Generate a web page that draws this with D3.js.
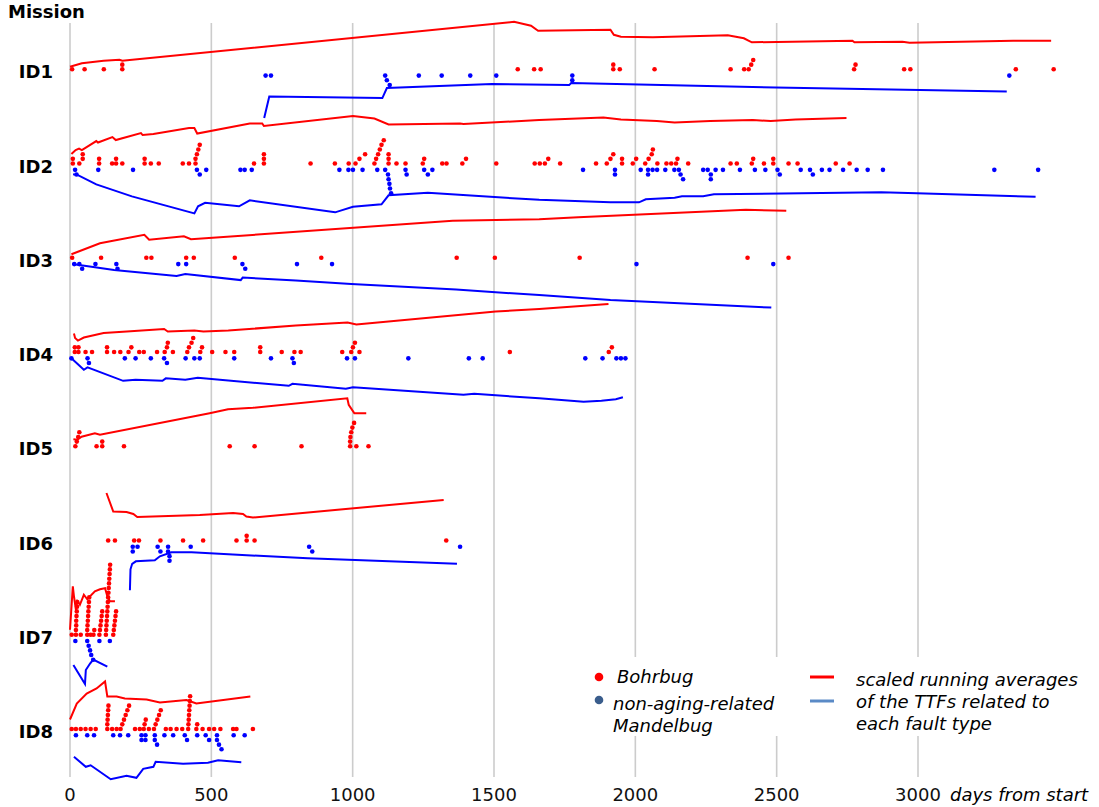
<!DOCTYPE html>
<html><head><meta charset="utf-8">
<script src="https://cdn.jsdelivr.net/npm/d3@7"></script>
<style>body{margin:0;background:#fff}svg{display:block}text{font-family:"DejaVu Sans",sans-serif}</style>
</head><body><svg id="c" width="1099" height="807"></svg>
<script>
const missions = ["ID1","ID2","ID3","ID4","ID5","ID6","ID7","ID8"];
const xTicks = [0,500,1000,1500,2000,2500,3000];

// failure days; nested arrays = bursts of failures that stack
const bohrbugDays = [
 [7.5,51.6,119.7,[185,185],1584,1642,1665,[1922,1922],1945,2068,2337,2385,[2401,2410,2417],[2774,2779],2951,2973,3346,3480],
 [[10,10],[33,45,45],[103,103],149,[163,163],185,[264,264],286,314,399,421,[444,444,449,454,459],651,[686,686,686],851,937,986,[1010,1024,1044],[1077,1083,1090,1096,1102,1110],[1127,1127,1127],1155,1187,[1248,1253],1317,[1332],[1388,1401],1508,1644,1662,[1680,1692],1734,1861,[1899,1912,1922],[1953,1953],[1991,2003],[2035,2047,2058,2062],2078,2110,2127,[2144,2149],2187,2337,2359,[2412,2417],2455,[2488,2488],2542,2574,2709,2758],
 [7.6,110,270,288,411,438,583,889,1368,1503,1803,2397,2542],
 [[17,17],[30,30],55,78,[131,131],156,178,[207,217],245,261,308,[335,343,346],364,[415,421,430,436],[461,467],503,550,581,[673,673],749,794,816,963,[995,1001,1008],1024,1556,[1906,1917]],
 [[19,24,29,33],94,[114,114],191,565,653,819,[991,991,992,995,999,1005],1013,1056],
 [135,159,227,244,320,400,471,589,[625,625],653,1331],
 [6,[21,21,22,22,23,24,25,26],38,[61,61,62,63,64,65,66,67,68],73,[83,86],[104,106,108,110,112,114],[127,128,129,130,131,132,133,134,135,136,137,138,139,140,141,142],[153,155,157,159,161,163]],
 [6,21,38,55,73,91,[132,132,133,134,135,136],149,165,[179,185,191,197,203,209],230,247,[261,264,268],279,[297,303,309,315,321],339,356,377,397,[418,419,420,421,422,423,424,425],[447,450],469,492,510,532,577,589,647]
];
const mandelbugDays = [
 [692,711,[1115,1121,1131],1234,1315,1416,1508,[1777,1777],3323],
 [[18,23],100,223,[449,459],482,603,618,643,953,985,1001,1035,1087,[1115,1125,1127,1130,1132,1136],[1187,1191],[1253,1266],1282,1815,[1928,1928],2019,[2045,2045],2061,2077,2106,2138,[2154,2160,2169],2240,[2256,2267,2267],2284,2310,2370,2423,2460,[2503,2511],2585,[2618,2628],2660,2687,2735,2783,2822,2876,3270,3425],
 [15,[33,43],90,[164,168],383,411,[610,620],803,927,2004,2488],
 [5,[62,67],194,232,286,[333,343],409,440,459,581,711,[787,792],980,1008,1197,1411,1460,1823,1884,1933,1949,1965],
 [],
 [[222,222],239,[310,320],[347,347,352,352],427,[846,857],1380],
 [19,[61,66,71,75,82],104,141],
 [21,61,85,153,177,206,[253,253],[267,267],[300,300,308],334,365,[406,414],450,[480,492],[520,520,527,536],579,618]
];
// scaled running averages of the TTFs: [day, value]
const bohrbugAvg = [
 [[0,.05],[42,.12],[119,.17],[175,.19],[185,.17],[1571,.95],[1631,.87],[1656,.77],[1912,.79],[1924,.69],[1949,.65],[2062,.64],[2327,.68],[2384,.62],[2412,.54],[2768,.57],[2775,.54],[2945,.55],[2970,.53],[3337,.57],[3471,.57]],
 [[5,.19],[20,.27],[32,.30],[42,.27],[93,.45],[99,.42],[150,.53],[162,.47],[251,.61],[257,.57],[295,.59],[421,.71],[440,.71],[450,.60],[636,.80],[680,.80],[686,.75],[1001,.95],[1077,.90],[1127,.78],[1380,.80],[1392,.79],[1660,.87],[1887,.92],[1949,.88],[2076,.85],[2139,.82],[2265,.85],[2416,.87],[2479,.85],[2567,.88],[2747,.91]],
 [[5,.07],[106,.29],[263,.46],[280,.36],[403,.43],[428,.37],[1354,.74],[1660,.77],[1798,.81],[2391,.96],[2534,.94]],
 [[14,.37],[18,.28],[28,.23],[49,.29],[119,.38],[201,.41],[333,.46],[346,.41],[440,.43],[472,.41],[560,.43],[799,.53],[982,.59],[1013,.55],[1506,.81],[1660,.86],[1905,.96]],
 [[12,.14],[26,.13],[41,.19],[88,.26],[106,.23],[494,.66],[559,.74],[647,.77],[981,.96],[986,.83],[1006,.66],[1048,.66]],
 [[129,.95],[153,.58],[200,.57],[224,.53],[238,.47],[459,.51],[577,.55],[612,.53],[624,.48],[647,.46],[1322,.81]],
 [[0,.10],[10,.97],[14,.77],[21,.50],[26,.67],[35,.60],[49,.80],[61,.71],[88,.87],[106,.91],[124,.93],[132,.77],[141,.67],[159,.67]],
 [[0,.19],[24,.51],[59,.71],[94,.81],[124,.95],[132,.65],[165,.65],[194,.61],[271,.59],[318,.53],[412,.58],[447,.51],[638,.65]]
];
const mandelbugAvg = [
 [[687,.85],[705,.42],[1105,.45],[1121,.25],[1493,.17],[1766,.19],[1773,.15],[2496,.24],[3314,.32]],
 [[11,.09],[30,.11],[93,.29],[219,.53],[440,.87],[453,.73],[478,.66],[598,.73],[636,.61],[938,.85],[1001,.74],[1102,.69],[1127,.51],[1266,.46],[1660,.60],[1912,.65],[2013,.65],[2037,.59],[2139,.56],[2165,.53],[2240,.53],[2278,.49],[2870,.45],[2996,.47],[3416,.54]],
 [[8,0],[45,.03],[156,.12],[377,.24],[408,.20],[604,.32],[611,.27],[799,.33],[995,.40],[1366,.51],[1660,.62],[1912,.72],[2481,.87]],
 [[5,0],[49,.23],[62,.18],[188,.45],[232,.43],[327,.45],[339,.40],[408,.43],[452,.39],[774,.55],[787,.51],[976,.61],[1001,.58],[1392,.73],[1430,.71],[1660,.80],[1817,.87],[1880,.85],[1931,.82],[1956,.78]],
 [],
 [[212,.87],[214,.45],[220,.34],[233,.29],[300,.27],[318,.19],[359,.11],[430,.11],[841,.23],[1369,.34]],
 [[12,.48],[53,.86],[56,.58],[71,.45],[82,.37],[132,.51]],
 [[14,.43],[56,.63],[73,.60],[144,.88],[200,.81],[235,.85],[259,.67],[295,.63],[303,.53],[400,.57],[488,.55],[524,.50],[606,.54]]
];
const legendDots = ["Bohrbug","non-aging-related\nMandelbug"];
const legendLines = "scaled running averages\nof the TTFs related to\neach fault type";

const RED = "#ff0000", BLUE = "#0000ff";
const svg = d3.select("#c");
const x = d3.scaleLinear().domain([0,3000]).range([70,918]);
const row = d3.scalePoint().domain(missions).range([69.3,729]);
const avg = d3.scaleLinear().domain([0,1]).range([0,50]);
const STEP = 4.67, GAP = 6.3, R = 2.3;

// grid
svg.append("g").selectAll("line").data(xTicks).join("line")
  .attr("x1",d=>x(d)).attr("x2",d=>x(d)).attr("y1",23).attr("y2",777)
  .attr("stroke","#cccccc").attr("stroke-width",1.6);

function flat(arr){
  const out=[];
  arr.forEach(g=>{ (Array.isArray(g)?g:[g]).forEach((d,i)=>out.push({d,lvl:i})); });
  return out;
}
const line = d3.line();
missions.forEach((m,i)=>{
  const yR = row(m), yB = row(m)+GAP;
  const g = svg.append("g");
  g.append("path").attr("d", line(bohrbugAvg[i].map(p=>[x(p[0]), yR-avg(p[1])])))
   .attr("fill","none").attr("stroke",RED).attr("stroke-width",2);
  if (mandelbugAvg[i].length)
  g.append("path").attr("d", line(mandelbugAvg[i].map(p=>[x(p[0]), yB+avg(p[1])])))
   .attr("fill","none").attr("stroke",BLUE).attr("stroke-width",2);
  g.selectAll("circle.b").data(flat(bohrbugDays[i])).join("circle").attr("class","b")
   .attr("cx",d=>x(d.d)).attr("cy",d=>yR-d.lvl*STEP).attr("r",R).attr("fill",RED);
  g.selectAll("circle.m").data(flat(mandelbugDays[i])).join("circle").attr("class","m")
   .attr("cx",d=>x(d.d)).attr("cy",d=>yB+d.lvl*STEP).attr("r",R).attr("fill",BLUE);
});

// legend box (hides grid)
svg.append("rect").attr("x",582).attr("y",657).attr("width",515).attr("height",79).attr("fill","#fff");
const lg = svg.append("g").attr("font-size",18).attr("font-style","italic");
lg.append("circle").attr("cx",599).attr("cy",677).attr("r",4.3).attr("fill",RED);
lg.append("circle").attr("cx",599).attr("cy",700).attr("r",4.3).attr("fill","#3a5d8c");
lg.append("text").attr("x",617).attr("y",683).text(legendDots[0]);
legendDots[1].split("\n").forEach((t,k)=>lg.append("text").attr("x",613).attr("y",710+k*22).text(t));
lg.append("line").attr("x1",810).attr("x2",834).attr("y1",677).attr("y2",677).attr("stroke",RED).attr("stroke-width",3);
lg.append("line").attr("x1",810).attr("x2",834).attr("y1",701).attr("y2",701).attr("stroke","#5a8ac6").attr("stroke-width",3);
legendLines.split("\n").forEach((t,k)=>lg.append("text").attr("x",856).attr("y",686+k*22).text(t));

// axes text
svg.append("g").selectAll("text").data(xTicks).join("text")
  .attr("x",d=>x(d)).attr("y",801).attr("text-anchor","middle").attr("font-size",18).attr("fill","#111").text(d=>d);
svg.append("text").attr("x",950).attr("y",801).attr("font-size",18).attr("font-style","italic").text("days from start");
svg.append("g").selectAll("text").data(missions).join("text")
  .attr("x",53).attr("y",m=>row(m)+9).attr("text-anchor","end").attr("font-size",18).attr("font-weight","bold").text(m=>m);
svg.append("text").attr("x",8).attr("y",18).attr("font-size",18).attr("font-weight","bold").text("Mission");
</script></body></html>
